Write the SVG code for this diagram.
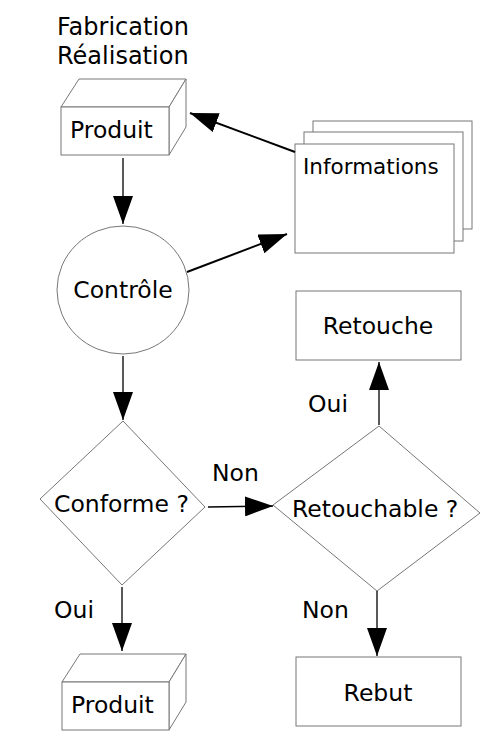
<svg xmlns="http://www.w3.org/2000/svg" width="500" height="750" viewBox="0 0 500 750">
<style>
.s{fill:#fff;stroke:#777;stroke-width:1}
.t{font-family:"DejaVu Sans",sans-serif;font-size:23.5px;fill:#000}
.c{stroke:#000;fill:none}
</style>
<defs>
<marker id="ah" markerUnits="userSpaceOnUse" markerWidth="29" markerHeight="20" refX="28" refY="10" orient="auto">
<path d="M0,0 L28,10 L0,20 z" fill="#000"/>
</marker>
</defs>
<rect width="500" height="750" fill="#fff"/>
<g id="titre">
<text class="t" x="57" y="35" style="font-size:24px">Fabrication</text>
<text class="t" x="57" y="64" style="font-size:24px">Réalisation</text>
</g>
<g id="produit1">
<polygon class="s" points="61,107 79,79 186,79 169,107"/>
<polygon class="s" points="169,107 186,79 186,127 169,155"/>
<rect class="s" x="61" y="107" width="108" height="48"/>
<text class="t" x="70" y="138">Produit</text>
</g>
<g id="informations">
<rect class="s" x="313" y="121" width="159" height="108"/>
<rect class="s" x="304" y="132" width="159" height="109"/>
<rect class="s" x="295" y="144" width="159" height="109"/>
<text class="t" x="303" y="174" style="font-size:21.5px">Informations</text>
</g>
<g id="controle">
<ellipse class="s" cx="123" cy="290" rx="66" ry="64"/>
<text class="t" x="123" y="298" text-anchor="middle">Contrôle</text>
</g>
<g id="conforme">
<polygon class="s" points="123,421 205,507 122,585 40,499"/>
<text class="t" x="54" y="512">Conforme ?</text>
</g>
<g id="retouchable">
<polygon class="s" points="379,426 480,513 377,591 273,505"/>
<text class="t" x="292" y="517">Retouchable ?</text>
</g>
<g id="retouche">
<rect class="s" x="296" y="291" width="165" height="69"/>
<text class="t" x="378" y="334" text-anchor="middle">Retouche</text>
</g>
<g id="rebut">
<rect class="s" x="296" y="657" width="165" height="69"/>
<text class="t" x="378" y="701" text-anchor="middle">Rebut</text>
</g>
<g id="produit2">
<polygon class="s" points="62,682 80,654 186,654 169,682"/>
<polygon class="s" points="169,682 186,654 186,702 169,730"/>
<rect class="s" x="62" y="682" width="107" height="48"/>
<text class="t" x="71" y="713">Produit</text>
</g>
<g id="connecteurs">
<line class="c" stroke-width="1.3" x1="123" y1="158" x2="123" y2="224" marker-end="url(#ah)"/>
<line class="c" stroke-width="2" x1="295" y1="152" x2="190" y2="113" marker-end="url(#ah)"/>
<line class="c" stroke-width="2" x1="187" y1="272" x2="287" y2="234" marker-end="url(#ah)"/>
<line class="c" stroke-width="1.3" x1="123" y1="356" x2="123" y2="420" marker-end="url(#ah)"/>
<line class="c" stroke-width="1.3" x1="208" y1="507" x2="273" y2="506" marker-end="url(#ah)"/>
<line class="c" stroke-width="1.3" x1="122" y1="587" x2="122" y2="651" marker-end="url(#ah)"/>
<line class="c" stroke-width="1.3" x1="379" y1="425" x2="379" y2="362" marker-end="url(#ah)"/>
<line class="c" stroke-width="1.3" x1="377" y1="591" x2="377" y2="656" marker-end="url(#ah)"/>
<text class="t" x="212" y="481">Non</text>
<text class="t" x="54" y="618">Oui</text>
<text class="t" x="302" y="618">Non</text>
<text class="t" x="308" y="412">Oui</text>
</g>
</svg>
